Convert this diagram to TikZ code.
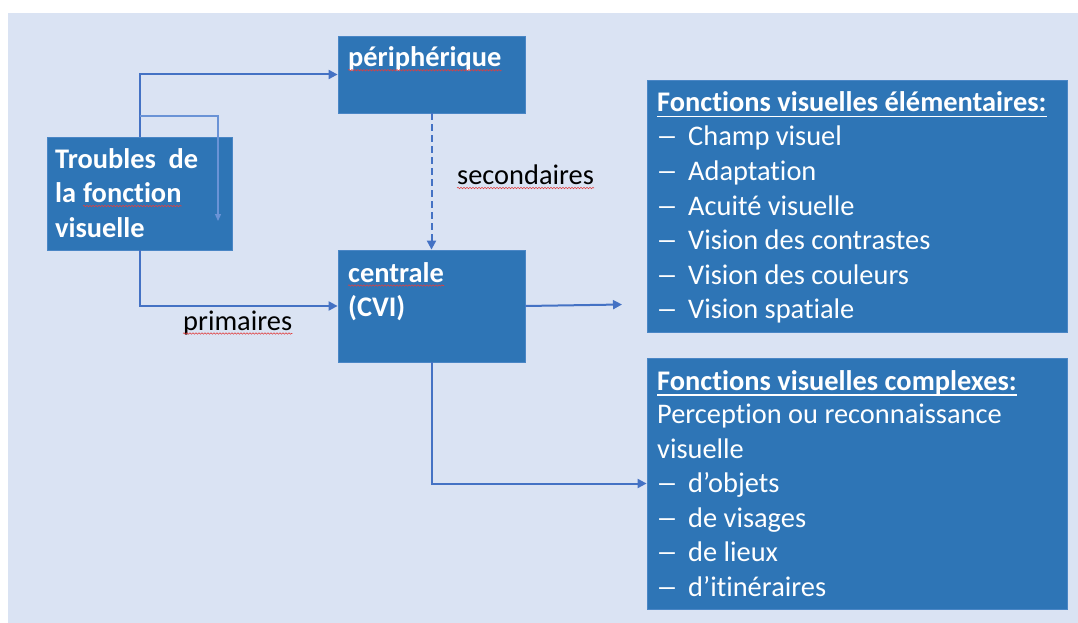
\documentclass[tikz,border=0pt]{standalone}
\usepackage{fontspec}
\setmainfont{Carlito}[Ligatures={NoCommon,NoContextual}]
\usetikzlibrary{arrows.meta,decorations.pathmorphing}
\definecolor{bgblue}{HTML}{DAE3F3}
\definecolor{boxblue}{HTML}{2E75B6}
\definecolor{boxedge}{HTML}{4A86C5}
\definecolor{conn}{HTML}{4472C4}
\definecolor{thinconn}{HTML}{6A93D6}
\definecolor{spell}{HTML}{E04040}
\newcommand{\itemdash}{\scalebox{1.55}[1.0]{–}}
\tikzset{
  box/.style={rectangle, fill=boxblue, draw=boxedge, line width=0.8pt, inner sep=0pt},
  txt/.style={anchor=base west, inner sep=0pt, text=white, font=\fontsize{28.4}{34.5}\selectfont},
  btxt/.style={txt, font=\fontsize{28.4}{34.5}\selectfont\bfseries},
  lbl/.style={anchor=base west, inner sep=0pt, text=black, font=\fontsize{28.4}{34.5}\selectfont},
  arr/.style={draw=conn, line width=2pt, -{Triangle[length=9pt,width=9pt]}},
  thinarr/.style={draw=thinconn, line width=1.3pt, -{Triangle[length=7pt,width=6pt]}},
  dasharr/.style={arr, dash pattern=on 7pt off 4pt},
  wavy/.style={draw=spell, line width=0.6pt, decorate, decoration={snake, segment length=3pt, amplitude=0.7pt}},
  uline/.style={draw=white, line width=1.6pt}
}
\begin{document}
\begin{tikzpicture}[x=1pt,y=-1pt]
\useasboundingbox (0,0) rectangle (1078,623);
\fill[bgblue] (8,13) rectangle (1078,623);

% boxes
\node[box, minimum width=185pt, minimum height=113pt] (trb) at (139.5,193.5) {};
\node[box, minimum width=187pt, minimum height=77pt] (per) at (431.5,74.5) {};
\node[box, minimum width=187pt, minimum height=112pt] (cen) at (431.5,306) {};
\node[box, minimum width=420pt, minimum height=252pt] (ele) at (857,206) {};
\node[box, minimum width=420pt, minimum height=251pt] (cpx) at (857,483.5) {};

% texts in Troubles box
\node[btxt] (tb1) at (55,168) {Troubles\ \ de};
\node[btxt] (tb2a) at (55,202.5) {la};
\node[btxt] (tb2b) at (83,202.5) {fonction};
\node[btxt] (tb3) at (55,237) {visuelle};

% peripherique & centrale
\node[btxt] (pt) at (348,66.7) {périphérique};
\node[btxt] (ct1) at (348,282) {centrale};
\node[btxt] (ct2) at (348,316.5) {(CVI)};

% labels
\node[lbl] (sec) at (457,184) {secondaires};
\node[lbl] (pri) at (183,330.5) {primaires};

% elementary
\node[btxt] (et) at (657,111.7) {Fonctions visuelles élémentaires:};
\foreach \y/\t [count=\i] in {146/Champ visuel,180.5/Adaptation,215/Acuité visuelle,249.5/Vision des contrastes,284/Vision des couleurs,318.5/Vision spatiale}{
  \node[txt] (ed\i) at (656,\y) {\itemdash};
  \node[txt] (ei\i) at (688,\y) {\t};
}

% complex
\node[btxt] (ct) at (657,390) {Fonctions visuelles complexes:};
\node[txt] (cl1) at (657,423.5) {Perception ou reconnaissance};
\node[txt] (cl2) at (657,458) {visuelle};
\foreach \y/\t [count=\i] in {492.5/d’objets,527/de visages,561.5/de lieux,596/d’itinéraires}{
  \node[txt] (cd\i) at (656,\y) {\itemdash};
  \node[txt] (ci\i) at (688,\y) {\t};
}

% underlines of titles
\draw[uline] ([yshift=-5pt]et.base west) -- ([yshift=-5pt]et.base east);
\draw[uline] ([yshift=-5pt]ct.base west) -- ([yshift=-5pt]ct.base east);

% spell-check wavy underlines
\draw[wavy] ([yshift=-3.5pt]tb2b.base west) -- ([yshift=-3.5pt]tb2b.base east);
\draw[wavy] ([yshift=-3.5pt]pt.base west) -- ([yshift=-3.5pt]pt.base east);
\draw[wavy] ([yshift=-3.5pt]ct1.base west) -- ([yshift=-3.5pt]ct1.base east);
\draw[wavy] ([yshift=-4pt]sec.base west) -- ([yshift=-4pt]sec.base east);
\draw[wavy] ([yshift=-3pt]pri.base west) -- ([yshift=-3pt]pri.base east);

% connectors
\draw[arr] (trb.north) |- (per.west);
\draw[arr] (trb.south) |- (cen.west);
\draw[dasharr] (per.south) -- (cen.north);
\coordinate (eleIn) at (622,304.5);
\draw[arr] (cen.east) -- (eleIn);
\draw[arr] (cen.south) |- (cpx.west);
\coordinate (thinStart) at (139.5,116);
\coordinate (thinCorner) at (218,116);
\coordinate (thinEnd) at (218,221);
\draw[thinarr] (thinStart) -- (thinCorner) -- (thinEnd);
\end{tikzpicture}
\end{document}
